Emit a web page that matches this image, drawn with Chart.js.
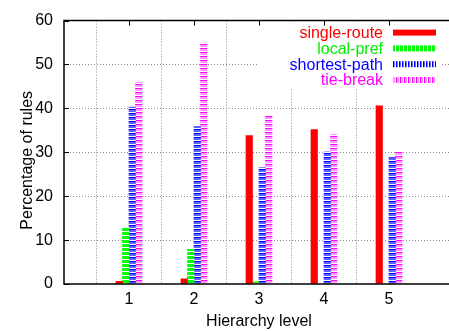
<!DOCTYPE html>
<html>
<head>
<meta charset="utf-8">
<script src="https://cdn.jsdelivr.net/npm/chart.js@4.4.0/dist/chart.umd.min.js"></script>
<style>
  html, body { margin: 0; padding: 0; background: #fff; overflow: hidden; }
  #wrap { width: 449px; height: 331px; overflow: hidden; }
</style>
</head>
<body>
<div id="wrap"><canvas id="myChart" width="460" height="331"></canvas></div>
<script>
// hierarchy levels (x axis) and percentage of rules per tie-break step
const levels = ['1', '2', '3', '4', '5'];
const singleRoute = [0.6, 1.2, 33.8, 35.2, 40.6];
const localPref = [12.9, 7.9, 0.5, 0, 0];
const shortestPath = [40.3, 35.9, 26.5, 30.1, 28.8];
const tieBreak = [46.0, 54.9, 38.2, 34.1, 30.1];
const yTicks = [0, 10, 20, 30, 40, 50, 60];

// x axis runs 0..6, levels sit on 1..5
const labels = ['', ...levels, ''];
const pad = arr => [null, ...arr, null];

// gnuplot-ish fill patterns, one colour per pixel row (or column)
function stripes(cols, vertical) {
  const c = document.createElement('canvas');
  c.width = vertical ? cols.length : 1;
  c.height = vertical ? 1 : cols.length;
  const g = c.getContext('2d');
  cols.forEach((col, i) => {
    g.fillStyle = col;
    if (vertical) g.fillRect(i, 0, 1, 1); else g.fillRect(0, i, 1, 1);
  });
  return g.createPattern(c, 'repeat');
}

const fills = {
  red: '#ff0000',
  green: stripes(['#00ff00', '#00ff00', '#00ff00', '#ffffff']),
  blue: stripes(['#ffffff', '#0000ff', '#6060ff', '#6060ff']),
  pink: stripes(['#ff00ff', '#ff99ff', '#ff99ff', '#ffffff'])
};
const keyFills = {
  red: '#ff0000',
  green: stripes(['#00ff00', '#00ff00', '#00ff00', '#ffffff'], true),
  blue: stripes(['#0000ff', '#7070ff', '#ffffff'], true),
  pink: stripes(['#ff00ff', '#ff99ff', '#ff99ff', '#ffffff'], true)
};

const series = [
  { label: 'single-route', data: singleRoute, color: '#ff0000', key: 'red' },
  { label: 'local-pref', data: localPref, color: '#00ee00', key: 'green' },
  { label: 'shortest-path', data: shortestPath, color: '#0000ff', key: 'blue' },
  { label: 'tie-break', data: tieBreak, color: '#ff00ff', key: 'pink' }
];

const FONT = "16px 'Liberation Sans', Arial, sans-serif";
Chart.defaults.font.family = "'Liberation Sans', Arial, sans-serif";
Chart.defaults.font.size = 16;
Chart.defaults.color = '#000';

const frame = {
  id: 'frame',
  afterDatasetsDraw(chart) {
    const ctx = chart.ctx;
    const a = chart.chartArea;
    const x = chart.scales.x;
    const y = chart.scales.y;
    ctx.save();
    // key box
    ctx.fillStyle = '#fff';
    ctx.fillRect(257, a.top + 1, 183, 67);
    ctx.font = FONT;
    ctx.textAlign = 'right';
    ctx.textBaseline = 'middle';
    series.forEach((s, i) => {
      const cy = a.top + 12 + i * 15.8;
      ctx.fillStyle = s.color;
      ctx.fillText(s.label, 383, cy + 1);
      ctx.fillStyle = keyFills[s.key];
      ctx.fillRect(393, cy - 3, 43, 6);
    });
    // y title, a bit below the middle like gnuplot puts it
    ctx.save();
    ctx.translate(28, (a.top + a.bottom) / 2 + 8);
    ctx.rotate(-Math.PI / 2);
    ctx.textAlign = 'center';
    ctx.fillStyle = '#000';
    ctx.fillText('Percentage of rules', 0, 0);
    ctx.restore();
    // border and inward ticks
    ctx.strokeStyle = '#000';
    ctx.lineWidth = 1.5;
    ctx.beginPath();
    ctx.moveTo(a.right + 10, a.top);
    ctx.lineTo(a.left, a.top);
    ctx.lineTo(a.left, a.bottom);
    ctx.lineTo(a.right + 10, a.bottom);
    ctx.stroke();
    ctx.lineWidth = 1;
    ctx.beginPath();
    yTicks.forEach(v => {
      const py = Math.round(y.getPixelForValue(v)) + 0.5;
      ctx.moveTo(a.left, py);
      ctx.lineTo(a.left + 5, py);
    });
    levels.forEach((l, i) => {
      const px = Math.round(x.getPixelForValue(i + 1)) + 0.5;
      ctx.moveTo(px, a.top);
      ctx.lineTo(px, a.top + 5);
    });
    ctx.stroke();
    ctx.restore();
  }
};

new Chart(document.getElementById('myChart'), {
  type: 'bar',
  data: {
    labels: labels,
    datasets: series.map(s => ({
      label: s.label,
      data: pad(s.data),
      backgroundColor: fills[s.key],
      borderWidth: 0,
      barThickness: 6.5
    }))
  },
  options: {
    responsive: false,
    animation: false,
    layout: { padding: { left: 0, top: 15, right: 6, bottom: 0 } },
    plugins: { legend: { display: false }, tooltip: { enabled: false } },
    scales: {
      x: {
        offset: false,
        grid: {
          drawTicks: false,
          color: c => (c.index === 0 || c.index === labels.length - 1) ? 'rgba(0,0,0,0)' : '#888',
          lineWidth: 1
        },
        border: { display: false, dash: [1, 2] },
        ticks: { padding: 6, maxRotation: 0, autoSkip: false },
        title: { display: true, text: 'Hierarchy level', padding: { top: 0, bottom: 0 } },
        afterFit: s => { s.height = 47; }
      },
      y: {
        min: 0,
        max: 60,
        afterBuildTicks: s => { s.ticks = yTicks.map(v => ({ value: v })); },
        grid: {
          drawTicks: false,
          color: c => (c.tick && (c.tick.value === 0 || c.tick.value === 60)) ? 'rgba(0,0,0,0)' : '#888',
          lineWidth: 1
        },
        border: { display: false, dash: [1, 2] },
        ticks: { padding: 11 },
        title: { display: false },
        afterFit: s => { s.width = 64; }
      }
    }
  },
  plugins: [frame]
});
</script>
</body>
</html>
